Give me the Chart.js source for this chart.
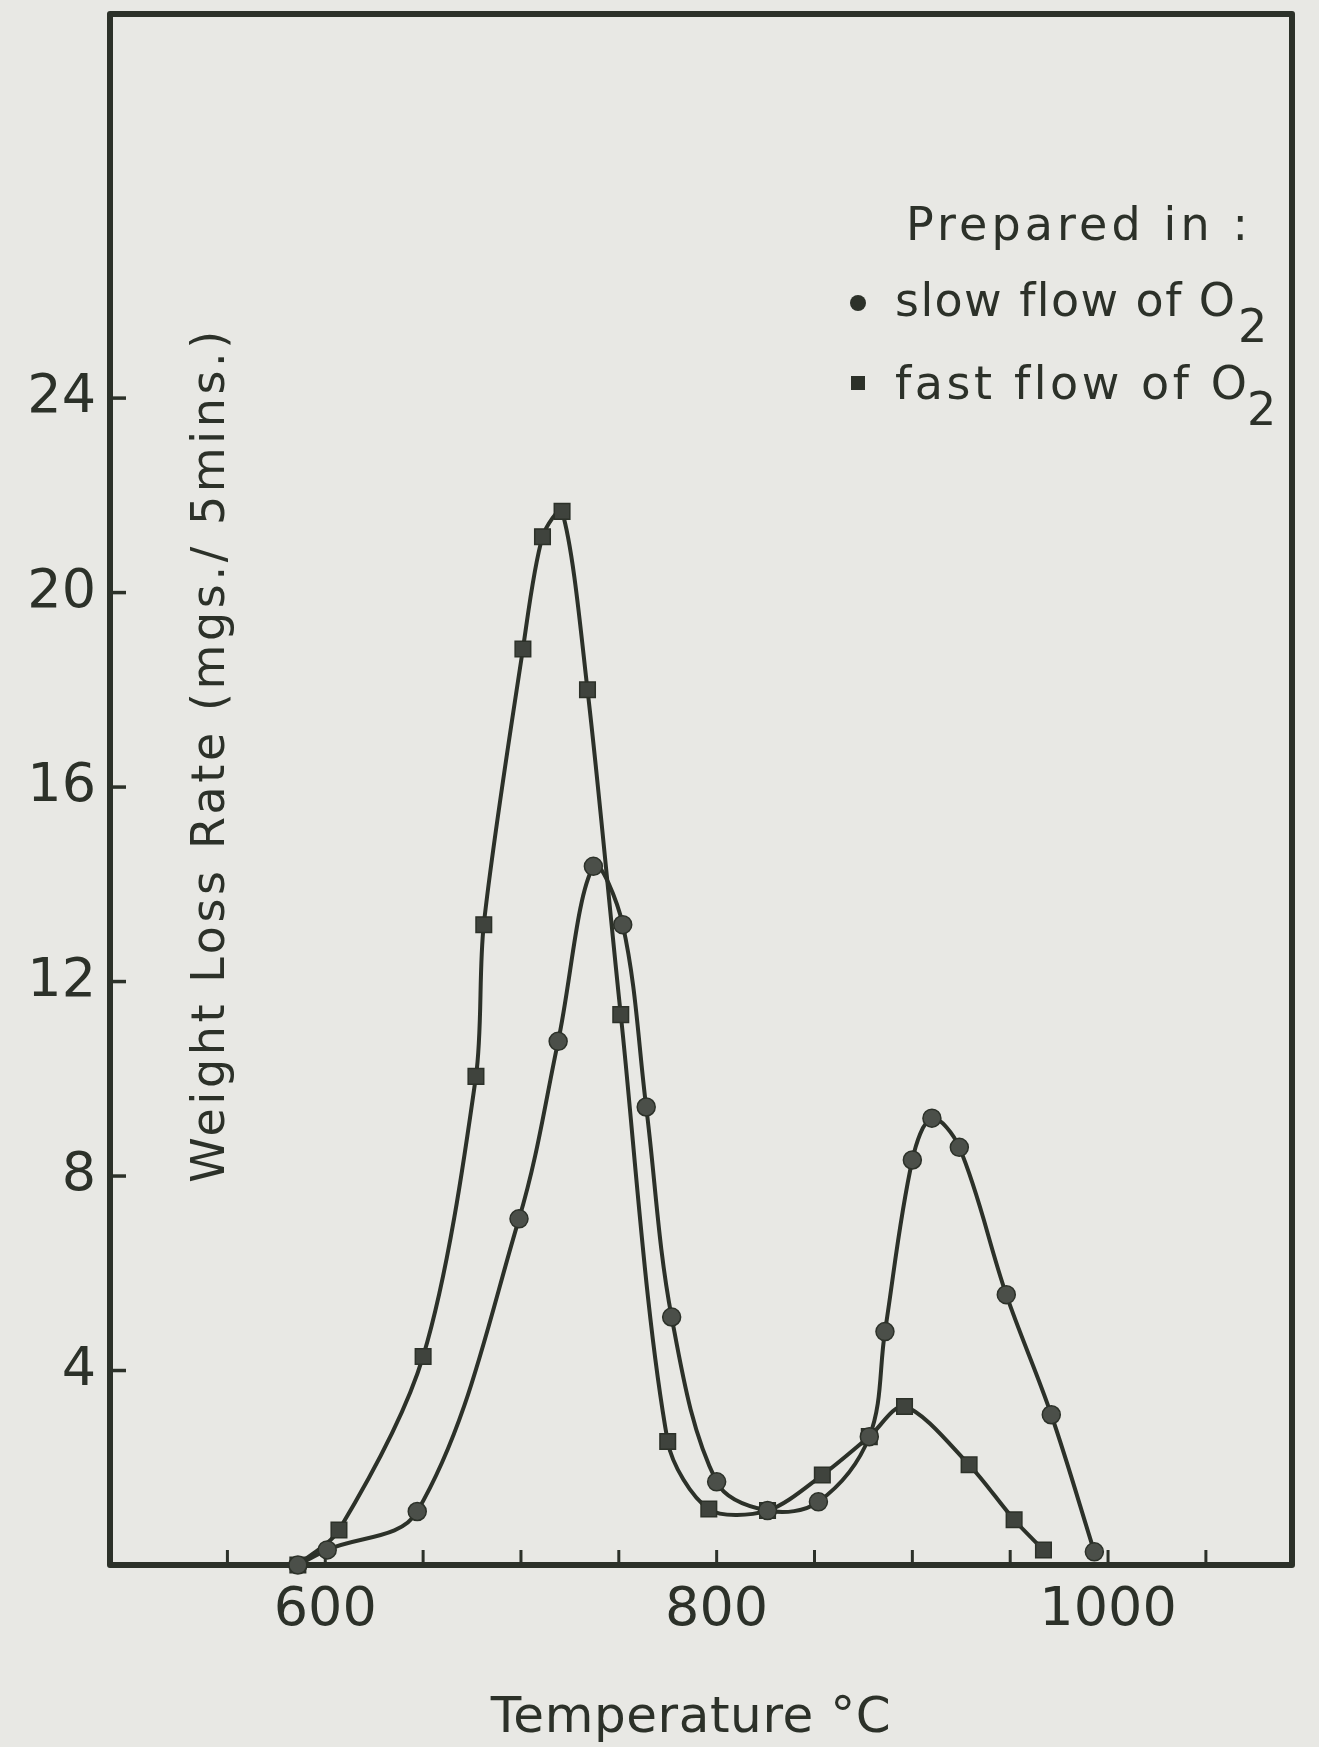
<!DOCTYPE html>
<html>
<head>
<meta charset="utf-8">
<title>Weight Loss Rate vs Temperature</title>
<script src="https://cdn.jsdelivr.net/npm/chart.js@4.4.1/dist/chart.umd.min.js"></script>
<style>
    html, body { margin: 0; padding: 0; background: #e8e8e4; }
    .chart-wrap { position: relative; width: 1319px; height: 1747px; }
</style>
</head>
<body>
<div class="chart-wrap"><canvas id="lossChart"></canvas></div>
<script>
/* Data */

// prepared in slow flow of O2 (circles)
const slowTemp = [586, 601, 647, 699, 719, 737, 752, 764, 777, 800, 826, 852, 878, 886, 900, 910, 924, 948, 971, 993];
const slowRate = [0, 0.31, 1.10, 7.12, 10.77, 14.37, 13.17, 9.42, 5.10, 1.71, 1.12, 1.30, 2.64, 4.80, 8.33, 9.19, 8.59, 5.56, 3.09, 0.27];

// prepared in fast flow of O2 (squares)
const fastTemp = [586, 607, 650, 677, 681, 701, 711, 721, 734, 751, 775, 796, 826, 854, 878, 896, 929, 952, 967];
const fastRate = [0, 0.72, 4.29, 10.05, 13.17, 18.84, 21.15, 21.67, 18.0, 11.32, 2.54, 1.15, 1.12, 1.85, 2.64, 3.26, 2.06, 0.93, 0.31];

const xTicks = [550, 600, 650, 700, 750, 800, 850, 900, 950, 1000, 1050];
const xLabels = [600, 800, 1000];
const yTicks = [4, 8, 12, 16, 20, 24];

const INK = '#2c3129';
const PAPER = '#e8e8e4';
const FONT = '"DejaVu Sans", sans-serif';

/* Helpers */

const toPoints = (xs, ys) => xs.map((x, i) => ({ x, y: ys[i] }));

// draw text stretched to a given width with letter spacing
const spacedText = (ctx, text, x, y, width) => {
    ctx.letterSpacing = '0px';
    const w = ctx.measureText(text).width;
    const ls = Math.max(0, (width - w) / Math.max(1, text.length - 1));
    ctx.letterSpacing = ls + 'px';
    ctx.fillText(text, x, y);
    ctx.letterSpacing = '0px';
};

/* Frame, inward ticks, legend and axis titles */

const paperPlugin = {
    id: 'paper',
    beforeDraw(chart) {
        const { ctx, width, height } = chart;
        ctx.save();
        ctx.fillStyle = PAPER;
        ctx.fillRect(0, 0, width, height);
        ctx.restore();
    },
    beforeDatasetsDraw(chart) {
        const { ctx, chartArea: a, scales } = chart;
        ctx.save();
        ctx.strokeStyle = INK;
        ctx.lineCap = 'butt';

        ctx.lineWidth = 3;
        xTicks.forEach(v => {
            const px = scales.x.getPixelForValue(v);
            ctx.beginPath();
            ctx.moveTo(px, a.bottom);
            ctx.lineTo(px, a.bottom - 15);
            ctx.stroke();
        });
        ctx.lineWidth = 3.5;
        yTicks.forEach(v => {
            const py = scales.y.getPixelForValue(v);
            ctx.beginPath();
            ctx.moveTo(a.left, py);
            ctx.lineTo(a.left + 16, py);
            ctx.stroke();
        });

        ctx.lineWidth = 6;
        ctx.lineJoin = 'round';
        ctx.strokeRect(a.left, a.top, a.right - a.left, a.bottom - a.top);
        ctx.restore();
    },
    afterDraw(chart) {
        const { ctx } = chart;
        ctx.save();
        ctx.fillStyle = INK;
        ctx.textBaseline = 'alphabetic';
        ctx.textAlign = 'left';
        ctx.font = '46px ' + FONT;

        // legend block
        spacedText(ctx, 'Prepared in :', 906, 240, 342);

        ctx.beginPath();
        ctx.arc(858, 303, 8, 0, Math.PI * 2);
        ctx.fill();
        spacedText(ctx, 'slow flow of O', 895, 316, 340);
        ctx.fillText('2', 1238, 342);

        ctx.fillRect(851, 376, 14, 14);
        spacedText(ctx, 'fast flow of O', 895, 399, 352);
        ctx.fillText('2', 1247, 425);

        // x axis title
        ctx.font = '50px ' + FONT;
        ctx.textAlign = 'center';
        spacedText(ctx, 'Temperature °C', 691, 1732, 400);

        // y axis title, drawn inside the frame
        ctx.translate(212, 755);
        ctx.rotate(-Math.PI / 2);
        ctx.textAlign = 'center';
        ctx.textBaseline = 'middle';
        ctx.font = '46px ' + FONT;
        spacedText(ctx, 'Weight Loss Rate (mgs./ 5mins.)', 0, 0, 852);
        ctx.restore();
    },
};

/* Chart */

document.addEventListener('DOMContentLoaded', () => {
    const canvas = document.getElementById('lossChart');

    new Chart(canvas, {
        type: 'scatter',
        data: {
            datasets: [
                {
                    label: 'slow flow of O2',
                    data: toPoints(slowTemp, slowRate),
                    showLine: true,
                    borderColor: INK,
                    borderWidth: 4,
                    tension: 0.35,
                    pointStyle: 'circle',
                    pointRadius: 9,
                    pointBackgroundColor: '#4b4f49',
                    pointBorderColor: INK,
                    pointBorderWidth: 1.5,
                    clip: false,
                },
                {
                    label: 'fast flow of O2',
                    data: toPoints(fastTemp, fastRate),
                    showLine: true,
                    borderColor: INK,
                    borderWidth: 4,
                    tension: 0.3,
                    pointStyle: 'rect',
                    pointRadius: 11,
                    pointBackgroundColor: '#3f433d',
                    pointBorderColor: INK,
                    pointBorderWidth: 1.5,
                    clip: false,
                },
            ],
        },
        options: {
            responsive: true,
            maintainAspectRatio: false,
            animation: false,
            layout: { padding: { top: 14, right: 27, left: 0, bottom: 0 } },
            plugins: {
                legend: { display: false },
                tooltip: { enabled: false },
            },
            scales: {
                x: {
                    type: 'linear',
                    position: 'bottom',
                    min: 490,
                    max: 1094,
                    afterBuildTicks: s => { s.ticks = xTicks.map(v => ({ value: v })); },
                    afterFit: s => {
                        s.height = 182;
                        s.paddingLeft = 0;
                        s.paddingRight = 0;
                    },
                    grid: { display: false, drawTicks: false },
                    border: { display: false },
                    ticks: {
                        color: INK,
                        font: { family: FONT, size: 54 },
                        padding: 14,
                        maxRotation: 0,
                        autoSkip: false,
                        callback: v => xLabels.includes(v) ? String(v) : '',
                    },
                    title: { display: false },
                },
                y: {
                    min: 0,
                    max: 31.9,
                    afterBuildTicks: s => { s.ticks = yTicks.map(v => ({ value: v })); },
                    afterFit: s => {
                        s.width = 110;
                        s.paddingTop = 0;
                        s.paddingBottom = 0;
                    },
                    grid: { display: false, drawTicks: false },
                    border: { display: false },
                    ticks: {
                        color: INK,
                        font: { family: FONT, size: 54 },
                        padding: 14,
                    },
                },
            },
        },
        plugins: [paperPlugin],
    });
});
</script>
</body>
</html>
